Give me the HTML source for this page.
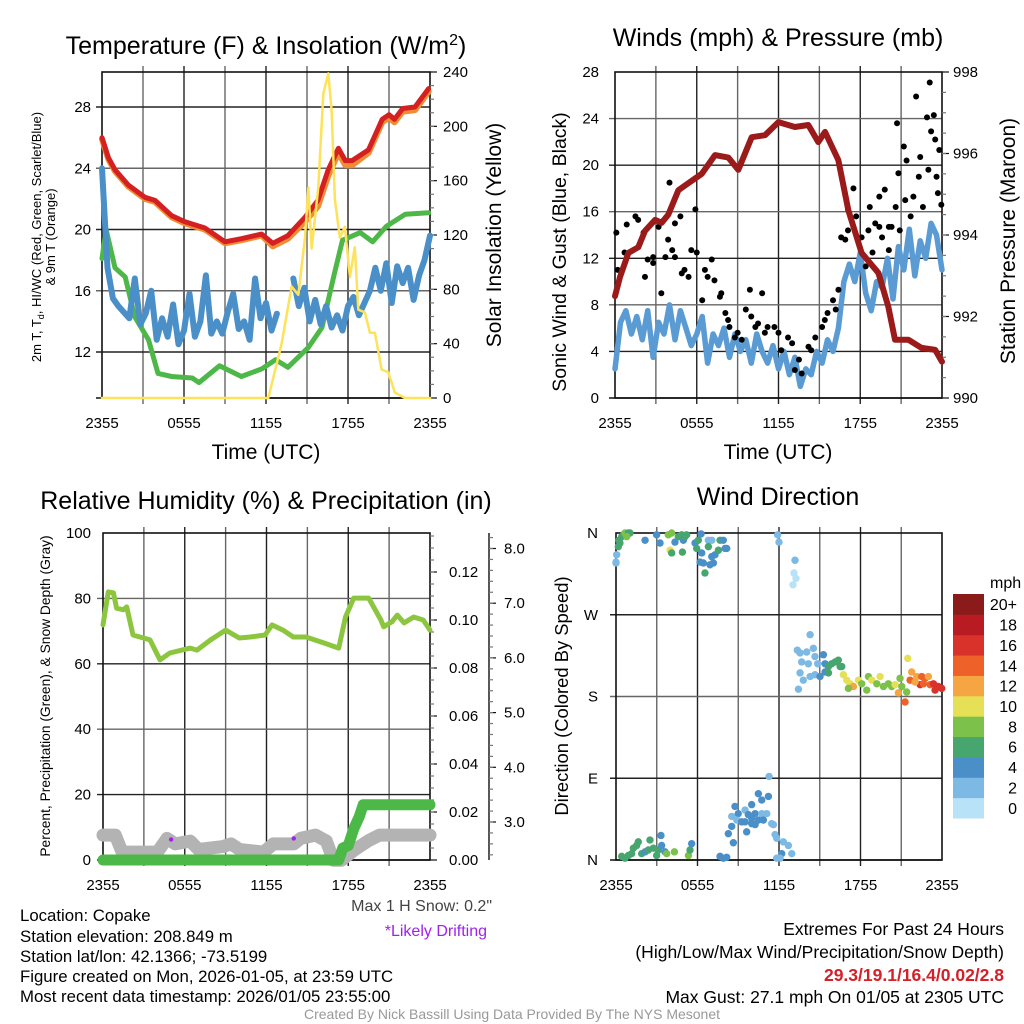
<!DOCTYPE html>
<html><head><meta charset="utf-8"><style>
body{margin:0;background:#fff;}
svg{display:block;font-family:"Liberation Sans",Arial,sans-serif;}
</style></head><body>
<svg id="fig" width="1024" height="1024" viewBox="0 0 1024 1024" xmlns="http://www.w3.org/2000/svg">
<rect width="1024" height="1024" fill="#fff"/>
<g id="layer"></g>
<!-- titles -->
<text x="266" y="54" font-size="25" text-anchor="middle">Temperature (F) &amp; Insolation (W/m<tspan dy="-9" font-size="16">2</tspan><tspan dy="9">)</tspan></text>
<text x="778" y="46" font-size="25" text-anchor="middle">Winds (mph) &amp; Pressure (mb)</text>
<text x="266" y="509" font-size="25" text-anchor="middle">Relative Humidity (%) &amp; Precipitation (in)</text>
<text x="778" y="505" font-size="25" text-anchor="middle">Wind Direction</text>
<text x="266" y="459" font-size="21" text-anchor="middle">Time (UTC)</text>
<text x="778" y="459" font-size="21" text-anchor="middle">Time (UTC)</text>
<g font-size="13" text-anchor="middle">
<text transform="translate(41,237) rotate(-90)">2m T, T<tspan font-size="9" dy="3">d</tspan><tspan dy="-3">, HI/WC (Red, Green, Scarlet/Blue)</tspan></text>
<text transform="translate(55,237) rotate(-90)">&amp; 9m T (Orange)</text>
</g>
<text transform="translate(501,235) rotate(-90)" font-size="21" text-anchor="middle">Solar Insolation (Yellow)</text>
<text transform="translate(566,252) rotate(-90)" font-size="19.5" text-anchor="middle">Sonic Wind &amp; Gust (Blue, Black)</text>
<text transform="translate(1015,241) rotate(-90)" font-size="21" text-anchor="middle">Station Pressure (Maroon)</text>
<text transform="translate(50,696) rotate(-90)" font-size="13.8" text-anchor="middle">Percent, Precipitation (Green), &amp; Snow Depth (Gray)</text>
<text transform="translate(568,696) rotate(-90)" font-size="18.4" text-anchor="middle">Direction (Colored By Speed)</text>
<text x="990" y="588" font-size="16">mph</text>
<text x="492" y="911" font-size="16" fill="#444" text-anchor="end">Max 1 H Snow: 0.2"</text>
<text x="487" y="936" font-size="16" fill="#a020f0" text-anchor="end">*Likely Drifting</text>
<g font-size="16.8">
<text x="20" y="921">Location: Copake</text>
<text x="20" y="942">Station elevation: 208.849 m</text>
<text x="20" y="962">Station lat/lon: 42.1366; -73.5199</text>
<text x="20" y="982">Figure created on Mon, 2026-01-05, at 23:59 UTC</text>
<text x="20" y="1002">Most recent data timestamp: 2026/01/05 23:55:00</text>
</g>
<g font-size="17.5" text-anchor="end">
<text x="1004" y="935">Extremes For Past 24 Hours</text>
<text x="1004" y="958">(High/Low/Max Wind/Precipitation/Snow Depth)</text>
<text x="1004" y="981" fill="#d42028" font-weight="bold">29.3/19.1/16.4/0.02/2.8</text>
<text x="1004" y="1003">Max Gust: 27.1 mph On 01/05 at 2305 UTC</text>
</g>
<text x="512" y="1019" font-size="14" fill="#999" text-anchor="middle">Created By Nick Bassill Using Data Provided By The NYS Mesonet</text>
</svg>
<script>
// ---------- Panel 1 data ----------
const redT=[0,0.46,0.95,1.93,3.14,3.88,5.1,6.07,7.53,9.0,10.2,11.68,12.5,13.6,14.85,15.8,16.55,17.3,17.8,18.3,19.5,20.5,21.0,21.4,22.0,22.9,23.9];
const redV=[26.0,24.7,23.9,22.9,22.1,21.9,20.9,20.5,20.1,19.2,19.4,19.7,19.1,19.6,20.8,21.9,23.9,25.3,24.5,24.5,25.2,27.2,27.5,27.2,27.9,28.0,29.2];
const orangeV=[25.9,24.6,23.8,22.8,22.0,21.8,20.8,20.4,20.0,19.1,19.3,19.6,18.9,19.4,20.5,21.5,23.5,25.0,24.2,24.2,25.0,27.0,27.3,27.0,27.7,27.8,29.0];
const dewT=[0,0.3,0.95,1.7,2.4,3.4,4.1,5.1,6.6,7.1,8.6,10.2,11.7,12.7,13.6,15.1,16.1,17.0,17.6,18.9,19.8,20.8,22.2,23.9];
const dewV=[18.1,20.0,17.5,16.9,14.3,12.8,10.6,10.4,10.3,10.0,11.1,10.4,10.9,11.5,11.0,12.3,13.6,17.1,19.3,19.8,19.2,20.2,21.0,21.1];
const chillV=[24.0,17.5,15.5,15.0,14.6,14.2,16.8,13.8,14.5,16.0,12.8,14.2,13.0,15.1,12.5,13.4,15.8,13.0,14.0,17.0,13.2,14.0,13.2,14.6,15.8,13.5,14.0,12.8,16.8,14.2,15.2,13.4,14.5,null,null,16.8,15.0,16.2,14.0,15.4,13.8,15.0,13.6,14.4,13.4,15.0,15.6,14.4,15.2,16.0,17.5,16.0,17.8,15.2,17.6,16.5,17.5,15.4,17.0,18.0,19.6];
const solarT=[0,12.17,13.14,13.87,14.36,14.85,15.1,15.34,15.83,16.19,16.56,16.8,17.04,17.41,17.77,18.14,18.5,18.75,19.24,19.6,19.97,20.46,20.94,21.43,22.16,24];
const solarV=[0,0,40,82,76,118,155,110,155,224,239,212,146,118,126,89,111,65,63,48,48,21,19,4,0,0];
const p1TempTicks=[12,16,20,24,28];
const p1SolarTicks=[0,40,80,120,160,200,240];
const timeTickLabels=["2355","0555","1155","1755","2355"];
// ---------- Panel 2 data ----------
const presT=[0,0.37,0.98,1.71,2.2,2.94,3.42,3.91,4.65,5.38,6.36,7.34,8.32,9.05,10.03,11.01,11.99,13.2,14.19,14.92,15.41,16.39,17.13,18.1,19.33,20.06,20.55,21.53,22.5,23.5,24];
const presV=[992.5,992.97,993.56,993.7,994.1,994.37,994.3,994.5,995.1,995.27,995.5,995.96,995.9,995.6,996.4,996.45,996.77,996.65,996.7,996.28,996.53,995.84,994.6,993.56,993.07,992.24,991.43,991.43,991.23,991.18,990.89];
const sonicV=[2.5,6.5,7.5,5.5,7.0,5.0,7.5,3.5,6.5,5.5,8.0,5.0,7.5,6.0,4.5,5.5,7.0,3.0,5.5,4.5,6.0,3.5,5.5,4.0,5.0,3.0,5.5,4.0,3.0,4.5,2.5,4.0,2.0,3.5,1.0,2.5,2.0,4.0,3.0,5.0,4.0,6.0,10.0,11.5,10.0,12.5,9.0,7.5,10.0,9.5,12.0,8.5,13.0,11.0,14.5,10.5,13.5,12.0,15.0,14.0,11.0];
const gustT=[0.1,0.2,0.86,0.7,1.5,1.7,2.1,2.4,2.8,3.2,3.4,3.7,3.9,4.0,4.4,4.8,4.9,5.4,5.6,5.9,6.0,6.4,6.6,7.1,7.3,7.7,8.1,8.4,8.8,9.3,9.9,10.0,10.5,10.8,11.0,11.7,12.2,12.7,13.2,13.7,14.2,14.7,15.2,15.6,16.0,16.4,16.6,16.9,17.1,17.5,17.7,18.1,18.4,18.7,18.9,19.1,19.4,19.6,19.8,20.1,20.3,20.6,20.7,20.8,20.9,21.2,21.3,21.4,21.7,21.9,22.1,22.3,22.4,22.6,22.9,23.0,23.1,23.2,23.4,23.5,23.6,23.7,23.8,23.95,2.2,2.8,4.2,4.4,5.1,6.8,7.8,8.3,9.0,9.6,10.3,11.2,12.0,13.0,13.5,14.4,15.4,16.2,17.1,18.6,19.4,20.1];
const gustV=[14.2,11.0,14.9,12.5,15.6,15.3,14.2,11.9,12.1,14.7,9.0,12.1,13.6,18.5,15.0,15.6,10.7,10.4,12.7,16.2,12.5,8.4,11.0,11.9,10.1,8.7,7.3,6.1,5.2,5.0,9.3,7.0,6.4,9.0,5.6,6.1,4.1,5.2,2.4,2.1,4.4,5.2,6.1,7.3,8.4,9.3,13.8,13.6,16.2,18.0,15.6,13.8,11.3,16.4,12.5,15.0,17.3,13.8,17.9,12.7,14.7,16.4,23.6,19.3,14.4,21.6,17.0,20.4,15.6,17.3,25.9,19.0,20.7,16.4,24.1,19.6,27.1,22.9,24.3,22.2,19.0,17.6,21.3,16.6,10.4,11.6,12.7,12.1,11.0,10.4,9.0,6.7,5.6,7.6,6.1,6.1,5.6,4.7,3.3,4.1,6.7,7.6,14.4,14.4,14.7,14.7];
const windTicks=[0,4,8,12,16,20,24,28];
const presTicks=[990,992,994,996,998];
// ---------- Panel 3 data ----------
const rhT=[0,0.39,0.76,1.0,1.5,1.74,2.2,3.45,4.18,4.9,5.2,6.4,6.9,7.9,9.0,10.0,10.8,11.9,12.4,13.2,13.97,14.9,16.2,17.3,17.8,18.4,19.5,20.4,20.6,21.2,21.6,22.1,22.8,23.5,24];
const rhV=[71.9,82,81.7,77,76.5,77.4,68.8,67.3,61.2,63.3,63.6,64.8,64.2,67.3,70.3,67.9,68.2,68.8,71.9,70.3,68.2,68.2,66.4,64.8,74.3,80.1,80.1,73.4,71.3,72.8,74.9,72.5,74.3,73.4,70.3];
const precipT=[0,17.3,17.6,18.0,18.4,18.8,19.1,24];
const precipV=[0,0,0.005,0.006,0.013,0.018,0.023,0.023];
const snowT=[0,0.9,1.4,4.0,4.7,5.3,6.4,7.0,8.8,9.4,10.0,11.8,12.5,14.0,14.5,15.6,16.4,16.9,17.5,18.5,19.5,20.3,24];
const snowV=[2.76,2.76,2.45,2.45,2.7,2.6,2.65,2.5,2.55,2.6,2.5,2.45,2.6,2.6,2.7,2.76,2.65,2.3,2.3,2.5,2.66,2.76,2.76];
const driftT=[5.0,14.0];
const driftV=[2.68,2.7];
const rhTicks=[0,20,40,60,80,100];
const precipTicks=[0,0.02,0.04,0.06,0.08,0.10,0.12];
const snowTicks=[3,4,5,6,7,8];
// ---------- Panel 4 data ----------
const dirT=[0,0,0.05,0.17,0.22,0.42,0.54,0.66,0.91,1.03,0.79,0.29,2.14,2.99,3.24,3.85,4.1,3.98,4.1,4.34,4.59,4.84,4.96,5.08,5.2,4.89,5.82,5.94,6.06,6.26,6.31,6.19,6.43,6.55,6.8,6.92,7.05,7.29,7.54,6.8,7.05,7.66,7.9,8.03,8.15,7.17,11.9,12.0,13.18,13.1,13.25,13.03,
14.29,13.35,13.55,14.04,14.53,14.65,13.67,14.16,14.85,15.27,15.39,15.64,15.88,16.13,16.37,16.5,16.62,13.55,13.79,14.29,14.65,15.02,15.39,15.64,13.43,16.74,16.99,17.23,17.48,17.11,17.85,18.09,18.58,18.46,18.83,19.2,19.44,19.69,20.05,20.3,20.55,20.79,20.91,21.04,21.28,21.4,21.48,21.65,21.77,22.14,22.39,22.51,22.75,23.0,23.12,23.37,23.49,23.73,23.98,22.02,22.63,
0.42,0.66,0.91,1.15,1.28,1.52,1.64,1.89,2.14,2.38,2.5,2.75,2.99,3.12,3.31,3.36,3.61,3.73,4.3,5.33,5.45,5.57,7.66,7.9,8.15,
11.27,11.22,10.73,10.48,9.99,8.76,8.52,9.0,9.5,9.74,9.99,10.24,10.73,10.85,11.1,8.89,9.25,9.5,9.99,10.48,10.24,8.52,8.27,9.62,8.64,11.46,11.59,11.71,11.83,12.32,12.69,12.94,12.2,12.08,11.83];
const dirV=[327,328,336,345,352,356,358,360,360,360,356,349,352,358,349,358,360,341,338,350,356,358,352,356,358,339,349,343,352,359,338,328,327,316,352,325,334,336,341,345,352,352,352,343,343,327,358,350,330,316,310,303,
248,231,228,229,233,224,218,216,216,226,216,213,216,218,220,213,213,206,198,202,204,202,207,206,188,204,198,194,191,189,198,194,202,187,198,194,202,191,194,191,193,184,200,191,174,185,222,198,207,202,193,202,200,202,193,194,187,191,189,196,194,
4,2,5,7,13,16,20,7,9,11,22,13,5,11,27,16,9,7,9,5,11,18,4,2,3,
92,70,66,73,61,59,48,51,55,50,46,51,51,44,51,44,42,42,40,44,39,37,29,31,19,40,39,28,24,20,16,7,7,2,2];
const dirSpd=[2,2,3,6,6,7,6,8,7,6,8,6,4,4,4,8,8,10,6,4,6,6,4,6,6,6,4,6,6,4,4,4,4,6,2,4,4,4,6,6,3,6,4,4,4,4,2,2,2,1,1,1,
3,2,2,3,3,3,2,3,2,4,4,6,6,6,6,6,7,2,2,3,3,4,5,6,2,10,10,11,12,8,10,9,8,8,10,9,10,8,9,8,10,12,8,9,14,8,10,15,12,13,16,14,15,13,15,16,17,16,16,12,14,
7,7,6,7,6,7,6,6,5,7,6,6,6,6,4,4,5,8,8,8,6,4,4,4,4,
3,4,4,4,4,4,3,4,3,4,4,4,3,4,3,3,4,4,4,4,4,4,4,4,4,3,3,3,3,3,3,2,4,2,3];
const dirTickLabels=["N","E","S","W","N"];
const speedLabels=["0","2","4","6","8","10","12","14","16","18","20+"];
const speedColors=["#b8e2f8","#7cb9e4","#4a8fc8","#47a56e","#7cc24a","#e6e056","#f6a543","#ee6129","#d9322a","#b81c22","#8b1a1a"];

// ---------- helpers ----------
const NS="http://www.w3.org/2000/svg";
const layer=document.getElementById('layer');
function mk(tag,attrs,parent){const e=document.createElementNS(NS,tag);for(const k in attrs)e.setAttribute(k,attrs[k]);(parent||layer).appendChild(e);return e;}
function pathD(ts,vs,xf,yf){let d="",pen=false;for(let i=0;i<ts.length;i++){if(vs[i]===null||vs[i]===undefined){pen=false;continue;}d+=(pen?"L":"M")+xf(ts[i]).toFixed(1)+","+yf(vs[i]).toFixed(1);pen=true;}return d;}
function evenT(n){const a=[];for(let i=0;i<n;i++)a.push(i*24/(n-1));return a;}

function panelFrame(name,x0,x1,y0,y1,hGridYs,timeLabels){
  const g=mk('g',{});
  
  
  for(let k=1;k<8;k++){const x=x0+(x1-x0)*k/8;mk('line',{x1:x,x2:x,y1:y0-6,y2:y1+6,stroke:k%2?'#666':'#222','stroke-width':1.4},g);}
  hGridYs.forEach((y,i)=>mk('line',{x1:x0-6,x2:x1,y1:y,y2:y,stroke:i%2?'#666':'#222','stroke-width':1.4},g));
  mk('rect',{x:x0,y:y0,width:x1-x0,height:y1-y0,fill:'none',stroke:'#111','stroke-width':1.6},g);
  mk('line',{x1:x0-6,x2:x1,y1:y1,y2:y1,stroke:'#111','stroke-width':1.6},g);
  if(timeLabels){
    const tg=mk('g',{'font-size':15,'text-anchor':'middle'});
    
    
    timeLabels.forEach((s,i)=>{const t=mk('text',{x:x0+(x1-x0)*i/4,y:y1+30},tg);t.textContent=s;});
  }
}
function yLabels(name,vals,labels,yf,x,anchor,size){
  const g=mk('g',{'font-size':size||15,'text-anchor':anchor});
  
  
  vals.forEach((v,i)=>{const t=mk('text',{x:x,y:yf(v)+5},g);t.textContent=labels[i];});
  return g;
}
function rightTicks(name,vals,yf,x,minor){
  const g=mk('g',{stroke:'#111','stroke-width':1.2});
  
  
  vals.forEach(v=>mk('line',{x1:x,x2:x+7,y1:yf(v),y2:yf(v)},g));
  (minor||[]).forEach(v=>mk('line',{x1:x,x2:x+4,y1:yf(v),y2:yf(v),stroke:'#777'},g));
}
function line(name,ts,vs,xf,yf,color,w){
  const p=mk('path',{d:pathD(ts,vs,xf,yf),fill:'none',stroke:color,'stroke-width':w,'stroke-linejoin':'round','stroke-linecap':'round'});
  
  
  return p;
}

// ---------- Panel 1 ----------
const P1={x0:102,x1:430,y0:72,y1:398};
const x1f=t=>P1.x0+t*(P1.x1-P1.x0)/24;
const yT=v=>352-(v-12)*(352-107)/16;
const yS=v=>P1.y1-v*(P1.y1-P1.y0)/240;
panelFrame('temperature-panel',P1.x0,P1.x1,P1.y0,P1.y1,p1TempTicks.map(yT),timeTickLabels);
yLabels('p1-left-tick-labels',p1TempTicks,p1TempTicks.map(String),yT,91,'end');
const solarMinor=[];for(let v=10;v<240;v+=10)solarMinor.push(v);
rightTicks('p1-right-ticks',p1SolarTicks,yS,P1.x1,solarMinor);
yLabels('p1-right-tick-labels',p1SolarTicks,p1SolarTicks.map(String),yS,443,'start');
line('orange-9m-temp-line',redT,orangeV,x1f,yT,'#f28c33',6);
line('red-2m-temp-line',redT,redV,x1f,yT,'#d42020',5);
line('green-dewpoint-line',dewT,dewV,x1f,yT,'#4db848',5);
line('blue-windchill-line',evenT(chillV.length),chillV,x1f,yT,'#4a8fc8',6);
line('yellow-solar-line',solarT,solarV,x1f,yS,'#fde25a',2.5);

// ---------- Panel 2 ----------
const P2={x0:615,x1:942,y0:72,y1:398};
const x2f=t=>P2.x0+t*(P2.x1-P2.x0)/24;
const yW=v=>P2.y1-v*(P2.y1-P2.y0)/28;
const yP=v=>P2.y1-(v-990)*(P2.y1-P2.y0)/8;
panelFrame('winds-panel',P2.x0,P2.x1,P2.y0,P2.y1,windTicks.slice(1,7).map(yW),timeTickLabels);
yLabels('p2-left-tick-labels',windTicks,windTicks.map(String),yW,599,'end');
const presMinor=[];for(let v=990.5;v<998;v+=0.5)presMinor.push(v);
rightTicks('p2-right-ticks',presTicks,yP,P2.x1,presMinor);
yLabels('p2-right-tick-labels',presTicks,presTicks.map(String),yP,953,'start');
line('blue-sonic-wind-line',evenT(sonicV.length),sonicV,x2f,yW,'#5a9bd4',5.5);
const gg=mk('g',{fill:'#000'});


gustT.forEach((t,i)=>{const c=mk('circle',{cx:x2f(t),cy:yW(gustV[i]),r:3},gg);

});
line('maroon-pressure-line',presT,presV,x2f,yP,'#9b1b1b',6);

// ---------- Panel 3 ----------
const P3={x0:103,x1:430,y0:533,y1:860};
const x3f=t=>P3.x0+t*(P3.x1-P3.x0)/24;
const yRH=v=>P3.y1-v*(P3.y1-P3.y0)/100;
const yPr=v=>P3.y1-v*(P3.y1-812)/0.02;
const ySn=v=>822-(v-3)*54.7;
panelFrame('humidity-panel',P3.x0,P3.x1,P3.y0,P3.y1,[20,40,60,80].map(yRH),timeTickLabels);
yLabels('p3-left-tick-labels',rhTicks,rhTicks.map(String),yRH,91,'end');
const prMinor=[];for(let v=0.005;v<0.136;v+=0.005)prMinor.push(v);
rightTicks('p3-precip-ticks',precipTicks,yPr,P3.x1,prMinor);
yLabels('p3-precip-tick-labels',precipTicks,precipTicks.map(v=>v.toFixed(2)),yPr,449,'start');
const sAx=mk('line',{x1:489,x2:489,y1:533,y2:860,stroke:'#111','stroke-width':1.4});


const snMinor=[];for(let v=2.4;v<8.3;v+=0.2)snMinor.push(v);
rightTicks('p3-snow-ticks',snowTicks,ySn,489,snMinor);
yLabels('p3-snow-tick-labels',snowTicks,snowTicks.map(v=>v.toFixed(1)),ySn,504,'start');
line('green-rh-line',rhT,rhV,x3f,yRH,'#8cc63f',5);
line('gray-snow-depth-line',snowT,snowV,x3f,ySn,'#b3b3b3',13);
line('green-precip-line',precipT,precipV,x3f,yPr,'#4cb848',11);
driftT.forEach((t,i)=>{const c=mk('circle',{cx:x3f(t),cy:ySn(driftV[i]),r:2.2,fill:'#a020f0'});

});

// ---------- Panel 4 ----------
const P4={x0:616,x1:942,y0:533,y1:860};
const x4f=t=>P4.x0+t*(P4.x1-P4.x0)/24;
const yD=v=>P4.y1-v*(P4.y1-P4.y0)/360;
panelFrame('wind-direction-panel',P4.x0,P4.x1,P4.y0,P4.y1,[90,180,270].map(yD),timeTickLabels);
yLabels('p4-direction-labels',[0,90,180,270,360],dirTickLabels,yD,598,'end');
const dg=mk('g',{});


dirT.forEach((t,i)=>{const idx=Math.min(10,Math.floor(dirSpd[i]/2));
const c=mk('circle',{cx:x4f(t),cy:yD(dirV[i]),r:3.7,fill:speedColors[idx]},dg);

});
const cb=mk('g',{'font-size':16,'text-anchor':'end'});


const cbTop=594,cbH=(818-594)/11;
speedLabels.forEach((s,i)=>{const k=10-i;
const r=mk('rect',{x:953,y:cbTop+k*cbH,width:31,height:cbH+0.5,fill:speedColors[i]},cb);


const t=mk('text',{x:1017,y:cbTop+k*cbH+cbH/2+6},cb);t.textContent=s;});
</script>
</body></html>
